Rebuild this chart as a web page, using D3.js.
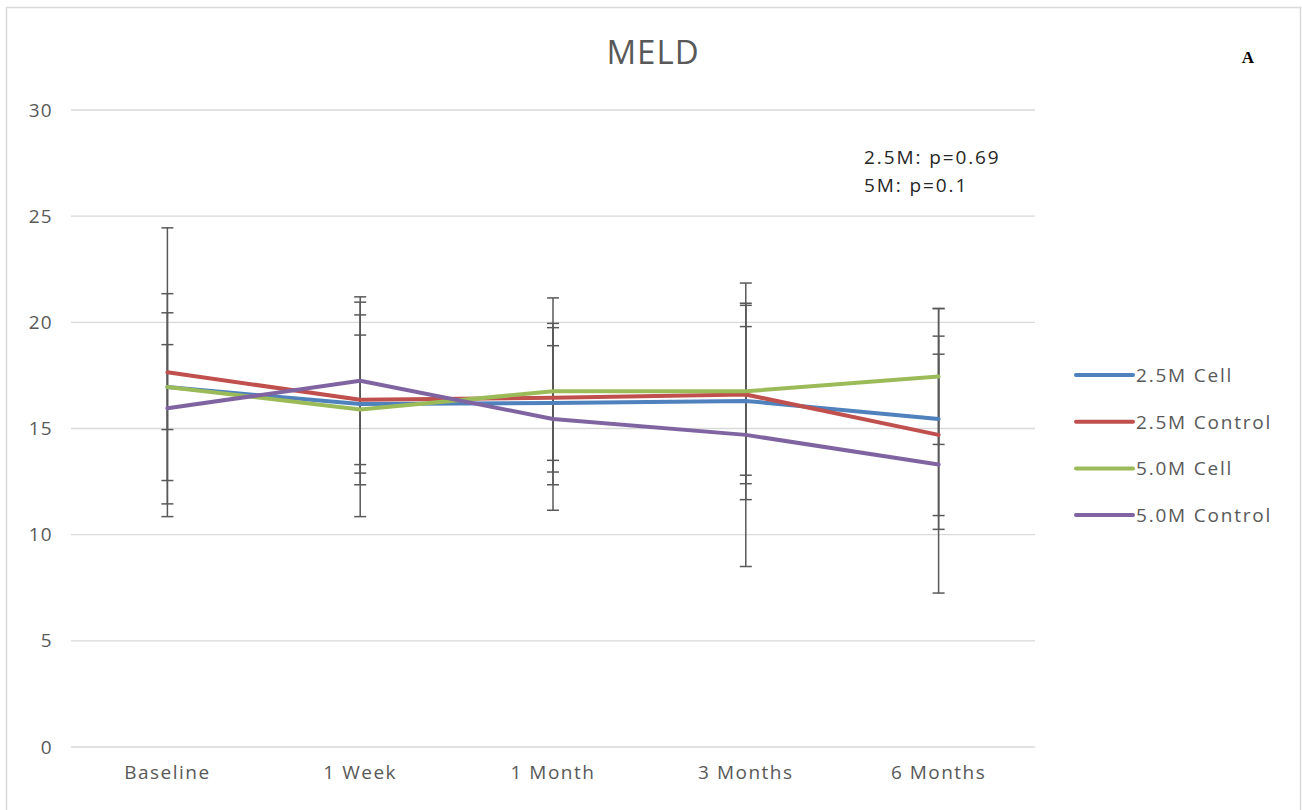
<!DOCTYPE html>
<html>
<head>
<meta charset="utf-8">
<script src="https://cdn.jsdelivr.net/npm/d3@7"></script>
<style>
  body { margin: 0; background: #fff; }
  text { font-family: "Open Sans", Lato, sans-serif; }
</style>
</head>
<body>
<svg id="Vis" width="1302" height="810"></svg>
<script>
/*
* DATA
*/

const timepoints = ["Baseline", "1 Week", "1 Month", "3 Months", "6 Months"];
const seriesNames = ["2.5M Cell", "2.5M Control", "5.0M Cell", "5.0M Control"];
const yTicks = [0, 5, 10, 15, 20, 25, 30];

// means per series, one per timepoint
const cell25 = [16.95, 16.15, 16.2, 16.3, 15.45];
const control25 = [17.65, 16.35, 16.45, 16.6, 14.7];
const cell50 = [16.95, 15.9, 16.75, 16.75, 17.45];
const control50 = [15.95, 17.25, 15.45, 14.7, 13.3];

// error bar half-widths (SD)
const cell25Err = [2.0, 3.25, 2.7, 3.5, 5.2];
const control25Err = [6.8, 4.0, 3.5, 4.2, 3.8];
const cell50Err = [4.4, 5.05, 4.4, 5.1, 3.2];
const control50Err = [4.5, 3.95, 4.3, 6.2, 6.05];

const annotations = ["2.5M: p=0.69", "5M: p=0.1"];

const colors = ["#4f81bd", "#c0504d", "#9bbb59", "#8064a2"];

const series = [
  { name: seriesNames[0], values: cell25, err: cell25Err, color: colors[0] },
  { name: seriesNames[1], values: control25, err: control25Err, color: colors[1] },
  { name: seriesNames[2], values: cell50, err: cell50Err, color: colors[2] },
  { name: seriesNames[3], values: control50, err: control50Err, color: colors[3] }
];

/*
* SETUP
*/

const svg = d3.select("svg#Vis");

const plot = { left: 71, right: 1035, top: 110, bottom: 747 };

const x = d3.scaleBand()
  .domain(timepoints)
  .range([plot.left, plot.right]);

const y = d3.scaleLinear()
  .domain([0, 30])
  .range([plot.bottom, plot.top]);

/* Chart border */
svg.append("rect")
  .attr("x", 6.5)
  .attr("y", 7.5)
  .attr("width", 1294)
  .attr("height", 810)
  .attr("fill", "none")
  .attr("stroke", "#d9d9d9")
  .attr("stroke-width", 1.5);

/* Gridlines */
svg.append("g")
  .selectAll("line")
  .data(yTicks)
  .join("line")
  .attr("x1", plot.left)
  .attr("x2", plot.right)
  .attr("y1", d => y(d))
  .attr("y2", d => y(d))
  .attr("stroke", "#d9d9d9")
  .attr("stroke-width", 1.3);

/* Y axis */
const yAxis = svg.append("g")
  .attr("transform", "translate(" + plot.left + ",0)")
  .call(d3.axisLeft(y).tickValues(yTicks).tickSize(0).tickPadding(18));
yAxis.select(".domain").remove();
yAxis.selectAll("text")
  .attr("font-size", 19)
  .attr("fill", "#595959")
  .style("letter-spacing", "1.3px")
  .style("font-family", "'Open Sans', sans-serif");

/* X axis */
const xAxis = svg.append("g")
  .attr("transform", "translate(0," + plot.bottom + ")")
  .call(d3.axisBottom(x).tickSize(0).tickPadding(19));
xAxis.select(".domain").remove();
xAxis.selectAll("text")
  .attr("font-size", 19)
  .attr("fill", "#595959")
  .style("letter-spacing", "1.5px")
  .style("font-family", "'Open Sans', sans-serif");

const cx = d => x(d) + x.bandwidth() / 2;

/* Error bars */
const errG = svg.append("g");
series.forEach(function(s) {
  timepoints.forEach(function(t, i) {
    const lo = y(s.values[i] - s.err[i]);
    const hi = y(s.values[i] + s.err[i]);
    errG.append("line")
      .attr("x1", cx(t)).attr("x2", cx(t))
      .attr("y1", lo).attr("y2", hi)
      .attr("stroke", "#595959").attr("stroke-width", 1.5);
    [lo, hi].forEach(function(v) {
      errG.append("line")
        .attr("x1", cx(t) - 6).attr("x2", cx(t) + 6)
        .attr("y1", v).attr("y2", v)
        .attr("stroke", "#595959").attr("stroke-width", 1.5);
    });
  });
});

/* Lines */
const line = d3.line()
  .x((d, i) => cx(timepoints[i]))
  .y(d => y(d));

svg.append("g")
  .selectAll("path")
  .data(series)
  .join("path")
  .attr("d", d => line(d.values))
  .attr("fill", "none")
  .attr("stroke", d => d.color)
  .attr("stroke-width", 4)
  .attr("stroke-linejoin", "round")
  .attr("stroke-linecap", "round");

/* Title */
svg.append("text")
  .attr("x", 653)
  .attr("y", 64)
  .attr("text-anchor", "middle")
  .attr("font-size", 33)
  .attr("fill", "#595959")
  .style("letter-spacing", "1px")
  .text("MELD");

/* Panel letter */
svg.append("text")
  .attr("x", 1248)
  .attr("y", 63)
  .attr("text-anchor", "middle")
  .attr("font-size", 17)
  .attr("font-weight", "bold")
  .style("font-family", "'Liberation Serif', 'Times New Roman', serif")
  .attr("fill", "#000")
  .text("A");

/* p-value annotation */
svg.append("g")
  .selectAll("text")
  .data(annotations)
  .join("text")
  .attr("x", 864)
  .attr("y", (d, i) => 164 + i * 28)
  .attr("font-size", 19)
  .attr("fill", "#262626")
  .style("letter-spacing", "1.9px")
  .text(d => d);

/* Legend */
const legend = svg.append("g")
  .selectAll("g")
  .data(series)
  .join("g")
  .attr("transform", (d, i) => "translate(1076," + (375 + i * 46.7) + ")");

legend.append("line")
  .attr("x1", 0).attr("x2", 57)
  .attr("y1", 0).attr("y2", 0)
  .attr("stroke", d => d.color)
  .attr("stroke-width", 4)
  .attr("stroke-linecap", "round");

legend.append("text")
  .attr("x", 60)
  .attr("y", 7)
  .attr("font-size", 19)
  .attr("fill", "#595959")
  .style("letter-spacing", "1.8px")
  .text(d => d.name);
</script>
</body>
</html>
